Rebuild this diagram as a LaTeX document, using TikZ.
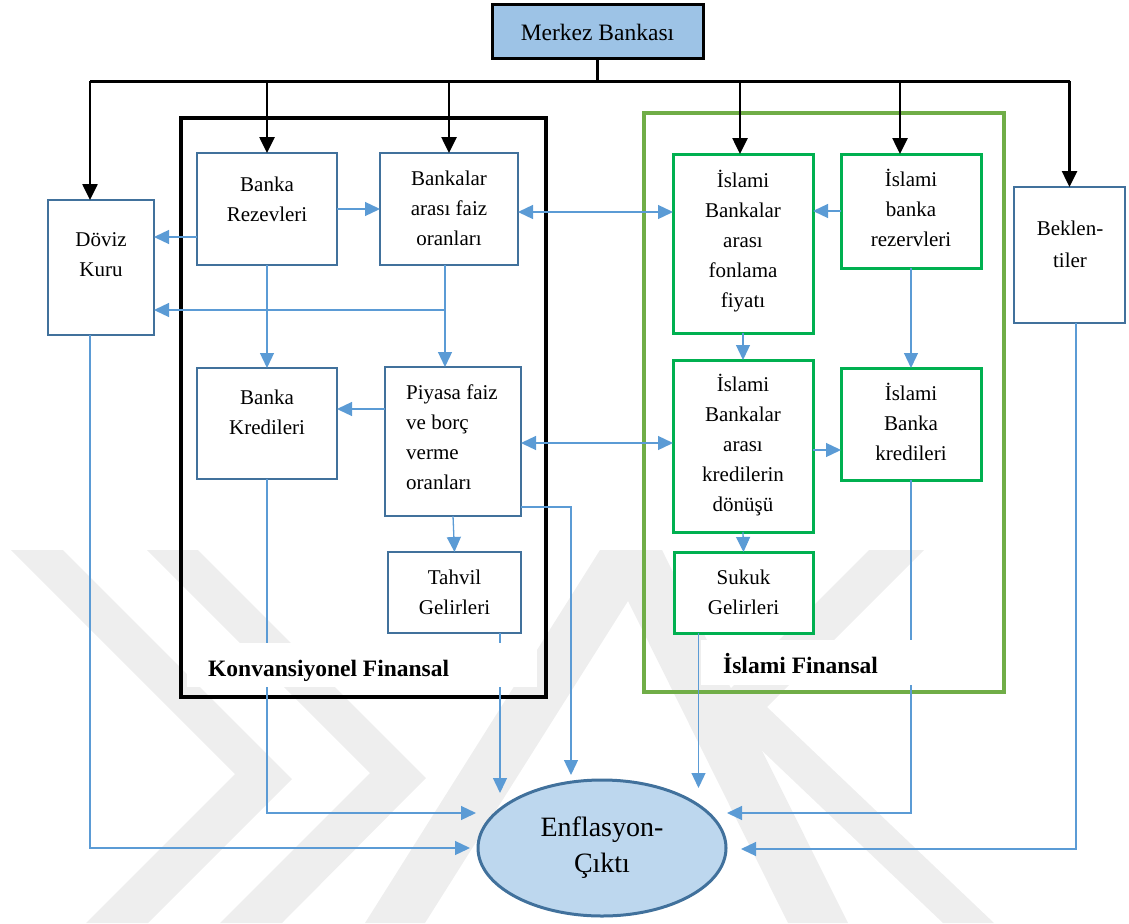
\documentclass[tikz,border=0pt]{standalone}
\usepackage{fontspec}
\setmainfont{Liberation Serif}
\usetikzlibrary{arrows.meta,shapes.geometric}
\definecolor{boxblue}{HTML}{41719C}
\definecolor{lineblue}{HTML}{5B9BD5}
\definecolor{boxgreen}{HTML}{00B050}
\definecolor{framegreen}{HTML}{70AD47}
\definecolor{cbfill}{HTML}{9DC3E6}
\definecolor{enffill}{HTML}{BDD7EE}
\definecolor{wmark}{HTML}{EEEEEE}

\begin{document}
\begin{tikzpicture}[x=1pt,y=-1pt,
  bluebox/.style={draw=boxblue, line width=2.6pt, fill=white, inner sep=0pt, outer sep=0pt},
  greenbox/.style={draw=boxgreen, line width=3pt, fill=white, inner sep=0pt, outer sep=0pt},
  boxtext/.style={font=\fontsize{21}{30}\selectfont, align=center, inner sep=0pt},
  labeltext/.style={anchor=base west, inner sep=0pt, font=\fontsize{23.5}{28}\selectfont\bfseries},
  labelbg/.style={fill=white, inner sep=0pt, outer sep=0pt},
  plainlink/.style={draw=lineblue, line width=1.3pt},
  link/.style={plainlink, -{Triangle[length=15pt,width=14pt]}},
  twoway/.style={plainlink, {Triangle[length=15pt,width=14pt]}-{Triangle[length=15pt,width=14pt]}},
  feed/.style={draw=black, line width=2.6pt},
  feedarrow/.style={feed, -{Triangle[length=16pt,width=15pt]}},
  frame/.style={line width=4.5pt, inner sep=0pt, outer sep=0pt}
]
\useasboundingbox (0,0) rectangle (1129,923);

% faint background emblem
\fill[wmark] (11,550) -- (63,550) -- (292,779) -- (148,923) -- (86,923) -- (235,774) -- cycle;
\fill[wmark] (147,550) -- (198,550) -- (426,778) -- (282,923) -- (220,923) -- (370,773) -- cycle;
\fill[wmark] (600,550) -- (662,550) -- (848,923) -- (788,923) -- (628,601) -- (425,923) -- (365,923) -- cycle;
\fill[wmark] (869,550) -- (924,550) -- (767,707) -- (994,923) -- (943,923) -- (714,705) -- cycle;

% group frames
\node[frame, draw=black, minimum width=365pt, minimum height=579pt] (konv) at (363.5,407.5) {};
\node[frame, draw=framegreen, minimum width=360pt, minimum height=579pt] (isl) at (824,402.5) {};

% central bank
\node[draw=black, line width=3pt, fill=cbfill, minimum width=211pt, minimum height=54pt,
      inner sep=0pt, font=\fontsize{23.5}{28}\selectfont] (merkez) at (597.5,32) {Merkez Bankası};

% conventional side
\node[bluebox, minimum width=106pt, minimum height=135pt] (doviz) at (101,267.5) {};
\node[boxtext] (doviz-t) at (101,254.5) {Döviz\\Kuru};
\node[bluebox, minimum width=140pt, minimum height=112pt] (rez) at (267,209) {};
\node[boxtext] (rez-t) at (267,199) {Banka\\Rezevleri};
\node[bluebox, minimum width=138pt, minimum height=112pt] (bank) at (449,209) {};
\node[boxtext] (bank-t) at (449,208) {Bankalar\\arası faiz\\oranları};
\node[bluebox, minimum width=140pt, minimum height=111pt] (kred) at (267,423.5) {};
\node[boxtext] (kred-t) at (267,412) {Banka\\Kredileri};
\node[bluebox, minimum width=136pt, minimum height=149pt] (piy) at (453,441.5) {};
\node[boxtext, align=left, anchor=west] (piy-t) at (406,437) {Piyasa faiz\\ve borç\\verme\\oranları};
\node[bluebox, minimum width=133pt, minimum height=81pt] (tah) at (454.5,592.5) {};
\node[boxtext] (tah-t) at (454.5,592) {Tahvil\\Gelirleri};

% islamic side
\node[greenbox, minimum width=140pt, minimum height=179pt] (ifon) at (743,243.5) {};
\node[boxtext] (ifon-t) at (743,241) {İslami\\Bankalar\\arası\\fonlama\\fiyatı};
\node[greenbox, minimum width=140pt, minimum height=114pt] (irez) at (911,211) {};
\node[boxtext] (irez-t) at (911,207.5) {İslami\\banka\\rezervleri};
\node[greenbox, minimum width=140pt, minimum height=172pt] (idon) at (743,446) {};
\node[boxtext] (idon-t) at (743,445.5) {İslami\\Bankalar\\arası\\kredilerin\\dönüşü};
\node[greenbox, minimum width=140pt, minimum height=112pt] (ikred) at (911,424) {};
\node[boxtext] (ikred-t) at (911,421.5) {İslami\\Banka\\kredileri};
\node[greenbox, minimum width=139pt, minimum height=81pt] (suk) at (743.5,592.5) {};
\node[boxtext] (suk-t) at (743.5,592) {Sukuk\\Gelirleri};

% expectations
\node[bluebox, minimum width=111pt, minimum height=136pt] (bek) at (1069.5,255) {};
\node[boxtext, font=\fontsize{21}{32}\selectfont] (bek-t) at (1070,244) {Beklen-\\tiler};

% outcome
\node[ellipse, draw=boxblue, line width=3pt, fill=enffill, minimum width=248pt, minimum height=136pt,
      inner sep=0pt, align=center, font=\fontsize{28}{36}\selectfont] (enf) at (602,848) {Enflasyon-\\Çıktı};

% central bank distribution bus
\path (merkez.south) ++(0,21) coordinate (bus);
\path ([xshift=-11pt]doviz.north) coordinate (dtop);
\path ([xshift=-3pt]ifon.north) coordinate (ftop);
\path ([xshift=-11pt]irez.north) coordinate (rtop);
\draw[feed] (merkez.south) -- (bus);
\draw[feed] (dtop |- bus) -- (bek.north |- bus);
\draw[feedarrow] (dtop |- bus) -- (dtop);
\draw[feedarrow] (rez.north |- bus) -- (rez.north);
\draw[feedarrow] (bank.north |- bus) -- (bank.north);
\draw[feedarrow] (ftop |- bus) -- (ftop);
\draw[feedarrow] (rtop |- bus) -- (rtop);
\draw[feedarrow] (bek.north |- bus) -- (bek.north);

% links inside the system
\path ([yshift=-28pt]rez.west) coordinate (c1);
\draw[link] (c1) -- (c1 -| doviz.east);
\draw[link] (rez.east) -- (bank.west);
\path ([yshift=-3pt]bank.east) coordinate (c3);
\draw[twoway] (c3) -- (c3 -| ifon.west);
\path ([xshift=-4pt]bank.south) coordinate (c4);
\path (c4) ++(0,45) coordinate (j1);
\draw[link] (c4) -- (c4 |- piy.north);
\draw[link] (j1) -- (j1 -| doviz.east);
\draw[link] (rez.south) -- (kred.north);
\path ([yshift=32.5pt]piy.west) coordinate (c6);
\draw[link] (c6) -- (c6 -| kred.east);
\path ([yshift=-1.5pt]piy.east) coordinate (c7);
\draw[twoway] (c7) -- (c7 -| idon.west);
\draw[link] (irez.west) -- (irez.west -| ifon.east);
\draw[link] (ifon.south) -- (ifon.south |- idon.north);
\draw[link] (irez.south) -- (ikred.north);
\path ([yshift=-4pt]idon.east) coordinate (c11);
\draw[link] (c11) -- (c11 -| ikred.west);
\draw[link] (piy.south) -- (tah.north);
\draw[link] (idon.south) -- (suk.north);

% links towards inflation-output
\coordinate (tPiy) at (571,775);
\coordinate (tTah) at (500,793);
\coordinate (tKred) at (476,813);
\coordinate (tDov) at (470,848);
\coordinate (tSuk) at (698.5,788);
\coordinate (tIkred) at (727,813);
\coordinate (tBek) at (741,849);
\path ([yshift=-65.5pt]piy.east) coordinate (c14);
\draw[link] (c14) -| (tPiy);
\path ([xshift=45.5pt]tah.south) coordinate (c15);
\draw[link] (c15) -- (c15 |- tTah);
\draw[link] (kred.south) |- (tKred);
\path ([xshift=-11pt]doviz.south) coordinate (c17);
\draw[link] (c17) |- (tDov);
\path ([xshift=-45pt]suk.south) coordinate (c18);
\draw[link] (c18) -- (c18 |- tSuk);
\draw[link] (ikred.south) |- (tIkred);
\path ([xshift=6.5pt]bek.south) coordinate (c20);
\draw[link] (c20) |- (tBek);

% group captions
\node[labelbg, minimum width=350pt, minimum height=44pt] (konbg) at (362,665) {};
\node[labeltext] (konlab) at (208,676) {Konvansiyonel Finansal};
\node[labelbg, minimum width=212pt, minimum height=45pt] (islbg) at (807,662.5) {};
\node[labeltext] (isllab) at (723,673) {İslami Finansal};
\end{tikzpicture}
\end{document}
